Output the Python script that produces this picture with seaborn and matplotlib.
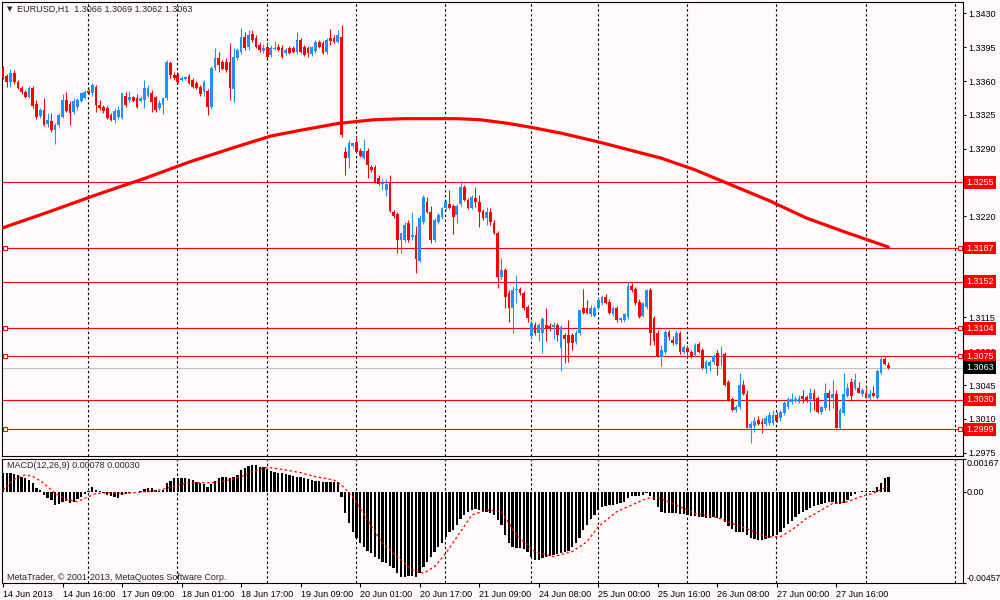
import numpy as np
import matplotlib
matplotlib.use('Agg')
import matplotlib.pyplot as plt
import seaborn as sns

# EURUSD H1 candles, 14 Jun 2013 .. 28 Jun 2013 (one entry per bar, left to right)
open_ = [1.3373, 1.3365, 1.3359, 1.3368, 1.3359, 1.3353, 1.3349, 1.3343, 1.3353, 1.3336,
         1.3324, 1.3330, 1.3315, 1.3319, 1.3309, 1.3314, 1.3323, 1.3340, 1.3336, 1.3328,
         1.3333, 1.3339, 1.3342, 1.3350, 1.3348, 1.3354, 1.3335, 1.3333, 1.3332, 1.3325,
         1.3320, 1.3323, 1.3322, 1.3345, 1.3340, 1.3343, 1.3342, 1.3339, 1.3340, 1.3345,
         1.3348, 1.3343, 1.3332, 1.3335, 1.3342, 1.3379, 1.3366, 1.3366, 1.3361, 1.3362,
         1.3365, 1.3361, 1.3358, 1.3354, 1.3349, 1.3350, 1.3333, 1.3373, 1.3384, 1.3380,
         1.3380, 1.3380, 1.3352, 1.3384, 1.3390, 1.3406, 1.3395, 1.3409, 1.3405, 1.3397,
         1.3391, 1.3395, 1.3387, 1.3393, 1.3395, 1.3394, 1.3389, 1.3394, 1.3394, 1.3390,
         1.3403, 1.3395, 1.3394, 1.3388, 1.3391, 1.3400, 1.3399, 1.3390, 1.3405, 1.3405,
         1.3400, 1.3406, 1.3286, 1.3280, 1.3293, 1.3297, 1.3288, 1.3280, 1.3288, 1.3271,
         1.3271, 1.3260, 1.3253, 1.3247, 1.3255, 1.3224, 1.3222, 1.3195, 1.3195, 1.3213,
         1.3198, 1.3200, 1.3174, 1.3214, 1.3235, 1.3224, 1.3195, 1.3214, 1.3219, 1.3228,
         1.3233, 1.3231, 1.3221, 1.3233, 1.3250, 1.3237, 1.3228, 1.3239, 1.3235, 1.3225,
         1.3218, 1.3224, 1.3213, 1.3203, 1.3157, 1.3164, 1.3140, 1.3125, 1.3143, 1.3145,
         1.3140, 1.3126, 1.3096, 1.3107, 1.3099, 1.3099, 1.3107, 1.3106, 1.3105, 1.3107,
         1.3083, 1.3097, 1.3097, 1.3097, 1.3090, 1.3099, 1.3125, 1.3125, 1.3119, 1.3117,
         1.3125, 1.3130, 1.3136, 1.3131, 1.3119, 1.3125, 1.3112, 1.3112, 1.3115, 1.3148,
         1.3145, 1.3131, 1.3117, 1.3126, 1.3143, 1.3114, 1.3099, 1.3074, 1.3079, 1.3100,
         1.3092, 1.3088, 1.3099, 1.3079, 1.3083, 1.3079, 1.3076, 1.3088, 1.3081, 1.3062,
         1.3065, 1.3069, 1.3078, 1.3074, 1.3077, 1.3048, 1.3031, 1.3019, 1.3022, 1.3045,
         1.3036, 1.3001, 1.3003, 1.3009, 1.3007, 1.3005, 1.3006, 1.3006, 1.3014, 1.3011,
         1.3016, 1.3022, 1.3027, 1.3029, 1.3027, 1.3034, 1.3033, 1.3031, 1.3037, 1.3032,
         1.3017, 1.3021, 1.3037, 1.3032, 1.3036, 1.3001, 1.3016, 1.3034, 1.3048, 1.3042,
         1.3042, 1.3036, 1.3037, 1.3032, 1.3037, 1.3032, 1.3058, 1.3072, 1.3066]
high = [1.3376, 1.3367, 1.3372, 1.3371, 1.3361, 1.3355, 1.3351, 1.3355, 1.3355, 1.3340,
        1.3332, 1.3342, 1.3327, 1.3327, 1.3316, 1.3327, 1.3347, 1.3349, 1.3339, 1.3342,
        1.3342, 1.3348, 1.3351, 1.3352, 1.3358, 1.3356, 1.3340, 1.3335, 1.3334, 1.3327,
        1.3332, 1.3334, 1.3348, 1.3349, 1.3350, 1.3345, 1.3347, 1.3344, 1.3361, 1.3356,
        1.3351, 1.3345, 1.3340, 1.3343, 1.3382, 1.3381, 1.3369, 1.3368, 1.3365, 1.3365,
        1.3367, 1.3363, 1.3360, 1.3356, 1.3361, 1.3352, 1.3376, 1.3394, 1.3390, 1.3382,
        1.3384, 1.3399, 1.3394, 1.3394, 1.3415, 1.3411, 1.3413, 1.3413, 1.3408, 1.3400,
        1.3398, 1.3400, 1.3397, 1.3401, 1.3398, 1.3397, 1.3394, 1.3396, 1.3396, 1.3411,
        1.3405, 1.3397, 1.3396, 1.3396, 1.3403, 1.3403, 1.3401, 1.3405, 1.3414, 1.3408,
        1.3413, 1.3418, 1.3292, 1.3299, 1.3296, 1.3302, 1.3291, 1.3300, 1.3291, 1.3273,
        1.3273, 1.3263, 1.3259, 1.3259, 1.3263, 1.3226, 1.3224, 1.3203, 1.3214, 1.3216,
        1.3224, 1.3210, 1.3221, 1.3242, 1.3240, 1.3231, 1.3218, 1.3223, 1.3230, 1.3237,
        1.3247, 1.3233, 1.3233, 1.3256, 1.3252, 1.3239, 1.3242, 1.3250, 1.3242, 1.3227,
        1.3229, 1.3228, 1.3216, 1.3205, 1.3177, 1.3166, 1.3143, 1.3148, 1.3159, 1.3147,
        1.3142, 1.3128, 1.3112, 1.3110, 1.3109, 1.3115, 1.3125, 1.3109, 1.3110, 1.3109,
        1.3107, 1.3099, 1.3112, 1.3099, 1.3102, 1.3123, 1.3145, 1.3133, 1.3128, 1.3127,
        1.3135, 1.3138, 1.3139, 1.3134, 1.3127, 1.3127, 1.3116, 1.3120, 1.3152, 1.3151,
        1.3147, 1.3134, 1.3131, 1.3145, 1.3146, 1.3117, 1.3102, 1.3086, 1.3102, 1.3102,
        1.3096, 1.3102, 1.3101, 1.3086, 1.3086, 1.3081, 1.3089, 1.3090, 1.3083, 1.3071,
        1.3071, 1.3077, 1.3081, 1.3085, 1.3079, 1.3050, 1.3033, 1.3024, 1.3057, 1.3050,
        1.3040, 1.3008, 1.3012, 1.3013, 1.3011, 1.3014, 1.3017, 1.3019, 1.3017, 1.3019,
        1.3028, 1.3033, 1.3037, 1.3034, 1.3035, 1.3040, 1.3035, 1.3042, 1.3041, 1.3034,
        1.3023, 1.3047, 1.3040, 1.3050, 1.3040, 1.3021, 1.3058, 1.3047, 1.3052, 1.3057,
        1.3048, 1.3042, 1.3042, 1.3040, 1.3044, 1.3062, 1.3074, 1.3074, 1.3069]
low = [1.3362, 1.3354, 1.3354, 1.3357, 1.3352, 1.3347, 1.3342, 1.3342, 1.3332, 1.3321,
       1.3322, 1.3313, 1.3312, 1.3307, 1.3295, 1.3312, 1.3322, 1.3328, 1.3314, 1.3326,
       1.3330, 1.3338, 1.3341, 1.3347, 1.3345, 1.3328, 1.3330, 1.3327, 1.3321, 1.3319,
       1.3316, 1.3321, 1.3321, 1.3333, 1.3338, 1.3338, 1.3332, 1.3338, 1.3332, 1.3343,
       1.3328, 1.3328, 1.3330, 1.3326, 1.3340, 1.3363, 1.3361, 1.3358, 1.3360, 1.3361,
       1.3357, 1.3353, 1.3352, 1.3345, 1.3345, 1.3325, 1.3331, 1.3371, 1.3369, 1.3371,
       1.3369, 1.3340, 1.3338, 1.3382, 1.3388, 1.3392, 1.3392, 1.3400, 1.3394, 1.3390,
       1.3389, 1.3384, 1.3385, 1.3392, 1.3391, 1.3384, 1.3387, 1.3388, 1.3389, 1.3388,
       1.3389, 1.3386, 1.3385, 1.3386, 1.3389, 1.3394, 1.3388, 1.3388, 1.3397, 1.3399,
       1.3399, 1.3302, 1.3263, 1.3270, 1.3291, 1.3285, 1.3281, 1.3279, 1.3260, 1.3266,
       1.3254, 1.3252, 1.3247, 1.3241, 1.3224, 1.3218, 1.3182, 1.3182, 1.3193, 1.3193,
       1.3195, 1.3161, 1.3172, 1.3212, 1.3223, 1.3192, 1.3193, 1.3212, 1.3217, 1.3226,
       1.3227, 1.3202, 1.3213, 1.3231, 1.3236, 1.3227, 1.3227, 1.3229, 1.3209, 1.3216,
       1.3211, 1.3211, 1.3202, 1.3146, 1.3155, 1.3125, 1.3110, 1.3099, 1.3130, 1.3138,
       1.3123, 1.3110, 1.3093, 1.3097, 1.3091, 1.3078, 1.3091, 1.3101, 1.3093, 1.3091,
       1.3060, 1.3068, 1.3069, 1.3081, 1.3088, 1.3097, 1.3119, 1.3119, 1.3117, 1.3116,
       1.3123, 1.3128, 1.3129, 1.3119, 1.3117, 1.3110, 1.3110, 1.3110, 1.3113, 1.3141,
       1.3128, 1.3114, 1.3115, 1.3124, 1.3086, 1.3086, 1.3074, 1.3065, 1.3077, 1.3092,
       1.3087, 1.3086, 1.3077, 1.3077, 1.3074, 1.3073, 1.3074, 1.3078, 1.3062, 1.3058,
       1.3060, 1.3067, 1.3055, 1.3065, 1.3044, 1.3028, 1.3018, 1.3017, 1.3020, 1.3035,
       1.3000, 1.2985, 1.2996, 1.3004, 1.2995, 1.3003, 1.3004, 1.3004, 1.3007, 1.3008,
       1.3014, 1.3020, 1.3025, 1.3027, 1.3026, 1.3026, 1.3027, 1.3017, 1.3019, 1.3016,
       1.3015, 1.3019, 1.3019, 1.3021, 1.3000, 1.2999, 1.3014, 1.3033, 1.3029, 1.3040,
       1.3037, 1.3034, 1.3032, 1.3030, 1.3033, 1.3031, 1.3056, 1.3066, 1.3062]
close = [1.3363, 1.3359, 1.3368, 1.3359, 1.3353, 1.3349, 1.3343, 1.3353, 1.3334, 1.3323,
         1.3330, 1.3314, 1.3320, 1.3309, 1.3314, 1.3325, 1.3340, 1.3329, 1.3327, 1.3339,
         1.3340, 1.3348, 1.3349, 1.3348, 1.3356, 1.3335, 1.3332, 1.3329, 1.3322, 1.3320,
         1.3329, 1.3330, 1.3348, 1.3335, 1.3343, 1.3339, 1.3333, 1.3342, 1.3353, 1.3353,
         1.3338, 1.3330, 1.3337, 1.3342, 1.3380, 1.3366, 1.3363, 1.3359, 1.3363, 1.3364,
         1.3358, 1.3354, 1.3353, 1.3347, 1.3359, 1.3333, 1.3373, 1.3384, 1.3377, 1.3372,
         1.3371, 1.3353, 1.3385, 1.3392, 1.3406, 1.3394, 1.3408, 1.3403, 1.3395, 1.3392,
         1.3394, 1.3385, 1.3394, 1.3394, 1.3392, 1.3385, 1.3392, 1.3389, 1.3390, 1.3403,
         1.3390, 1.3387, 1.3389, 1.3395, 1.3400, 1.3395, 1.3389, 1.3403, 1.3401, 1.3400,
         1.3408, 1.3304, 1.3280, 1.3296, 1.3296, 1.3286, 1.3282, 1.3287, 1.3273, 1.3268,
         1.3255, 1.3253, 1.3254, 1.3253, 1.3225, 1.3220, 1.3195, 1.3203, 1.3211, 1.3195,
         1.3200, 1.3176, 1.3218, 1.3240, 1.3224, 1.3195, 1.3216, 1.3221, 1.3228, 1.3235,
         1.3228, 1.3219, 1.3231, 1.3250, 1.3237, 1.3228, 1.3240, 1.3235, 1.3224, 1.3218,
         1.3224, 1.3214, 1.3203, 1.3157, 1.3164, 1.3136, 1.3125, 1.3143, 1.3145, 1.3140,
         1.3125, 1.3114, 1.3109, 1.3099, 1.3107, 1.3113, 1.3104, 1.3103, 1.3107, 1.3097,
         1.3105, 1.3093, 1.3089, 1.3089, 1.3099, 1.3123, 1.3120, 1.3120, 1.3125, 1.3125,
         1.3133, 1.3136, 1.3130, 1.3120, 1.3125, 1.3112, 1.3114, 1.3119, 1.3148, 1.3143,
         1.3130, 1.3115, 1.3130, 1.3143, 1.3099, 1.3091, 1.3074, 1.3081, 1.3100, 1.3095,
         1.3089, 1.3099, 1.3079, 1.3084, 1.3079, 1.3074, 1.3087, 1.3079, 1.3063, 1.3069,
         1.3069, 1.3075, 1.3065, 1.3075, 1.3045, 1.3029, 1.3019, 1.3022, 1.3045, 1.3036,
         1.3001, 1.3005, 1.3008, 1.3005, 1.3005, 1.3011, 1.3014, 1.3014, 1.3008, 1.3017,
         1.3026, 1.3031, 1.3031, 1.3031, 1.3032, 1.3031, 1.3029, 1.3037, 1.3029, 1.3017,
         1.3022, 1.3037, 1.3032, 1.3036, 1.3001, 1.3019, 1.3036, 1.3042, 1.3034, 1.3050,
         1.3037, 1.3040, 1.3032, 1.3036, 1.3034, 1.3060, 1.3072, 1.3067, 1.3063]

# MACD(12,26,9) main line (histogram), one per bar
macd_main = [0.00098, 0.00098, 0.00098, 0.00090, 0.00087, 0.00078, 0.00070, 0.00061, 0.00048, 0.00020,
             0.00011, -0.00014, -0.00031, -0.00039, -0.00064, -0.00059, -0.00048, -0.00043, -0.00053, -0.00048,
             -0.00036, -0.00023, -0.00009, 0.00005, 0.00025, 0.00013, 0.00005, -0.00004, -0.00012, -0.00017,
             -0.00024, -0.00029, -0.00012, -0.00007, -0.00003, 0.00001, 0.00003, 0.00006, 0.00015, 0.00020,
             0.00020, 0.00010, 0.00006, 0.00010, 0.00045, 0.00058, 0.00070, 0.00070, 0.00070, 0.00070,
             0.00065, 0.00061, 0.00053, 0.00045, 0.00041, 0.00025, 0.00041, 0.00058, 0.00070, 0.00078,
             0.00078, 0.00070, 0.00078, 0.00087, 0.00112, 0.00120, 0.00132, 0.00137, 0.00137, 0.00129,
             0.00125, 0.00115, 0.00108, 0.00103, 0.00098, 0.00095, 0.00092, 0.00087, 0.00082, 0.00075,
             0.00075, 0.00070, 0.00065, 0.00061, 0.00058, 0.00058, 0.00053, 0.00053, 0.00053, 0.00053,
             0.00053, -0.00024, -0.00105, -0.00155, -0.00199, -0.00232, -0.00257, -0.00277, -0.00294, -0.00308,
             -0.00324, -0.00338, -0.00350, -0.00358, -0.00371, -0.00383, -0.00405, -0.00425, -0.00425, -0.00421,
             -0.00421, -0.00425, -0.00405, -0.00375, -0.00350, -0.00328, -0.00299, -0.00277, -0.00254, -0.00227,
             -0.00199, -0.00190, -0.00165, -0.00137, -0.00115, -0.00098, -0.00090, -0.00087, -0.00090, -0.00098,
             -0.00098, -0.00103, -0.00115, -0.00140, -0.00165, -0.00215, -0.00257, -0.00277, -0.00282, -0.00282,
             -0.00287, -0.00299, -0.00324, -0.00341, -0.00341, -0.00333, -0.00324, -0.00321, -0.00316, -0.00311,
             -0.00304, -0.00299, -0.00294, -0.00277, -0.00257, -0.00232, -0.00190, -0.00165, -0.00137, -0.00115,
             -0.00090, -0.00073, -0.00070, -0.00065, -0.00065, -0.00060, -0.00053, -0.00048, -0.00031, -0.00020,
             -0.00020, -0.00020, -0.00015, -0.00003, -0.00020, -0.00040, -0.00073, -0.00098, -0.00103, -0.00103,
             -0.00107, -0.00107, -0.00110, -0.00110, -0.00115, -0.00120, -0.00120, -0.00124, -0.00127, -0.00132,
             -0.00132, -0.00127, -0.00132, -0.00132, -0.00149, -0.00171, -0.00187, -0.00199, -0.00199, -0.00199,
             -0.00215, -0.00232, -0.00237, -0.00240, -0.00240, -0.00237, -0.00232, -0.00220, -0.00215, -0.00199,
             -0.00182, -0.00161, -0.00144, -0.00127, -0.00110, -0.00098, -0.00090, -0.00082, -0.00070, -0.00065,
             -0.00060, -0.00053, -0.00048, -0.00048, -0.00057, -0.00057, -0.00053, -0.00040, -0.00020, -0.00010,
             0.00002, 0.00005, 0.00005, 0.00005, 0.00005, 0.00028, 0.00048, 0.00070, 0.00078]

# MACD signal line, read at selected bars
signal_bars = [0, 3, 6, 8, 11, 14, 17, 20, 22, 25, 29, 33, 38, 41, 46, 49, 53, 57, 60, 64,
               67, 71, 75, 80, 84, 89, 91, 94, 98, 102, 107, 110, 113, 116, 119, 123, 126, 130, 134, 138,
               143, 148, 153, 157, 160, 165, 169, 173, 176, 180, 186, 192, 196, 202, 205, 209, 212, 216, 220, 223,
               227, 230, 234, 238]
signal_vals = [0.00011, 0.00065, 0.00087, 0.00080, 0.00045, -0.00006, -0.00036, -0.00048, -0.00031, -0.00006,
               -0.00003, -0.00006, 0.00002, 0.00007, 0.00028, 0.00045, 0.00048, 0.00048, 0.00058, 0.00078,
               0.00103, 0.00125, 0.00115, 0.00098, 0.00078, 0.00061, 0.00036, -0.00022, -0.00140, -0.00257,
               -0.00341, -0.00391, -0.00408, -0.00375, -0.00308, -0.00199, -0.00115, -0.00090, -0.00098, -0.00215,
               -0.00299, -0.00324, -0.00299, -0.00249, -0.00174, -0.00098, -0.00065, -0.00031, -0.00026, -0.00057,
               -0.00107, -0.00127, -0.00157, -0.00199, -0.00224, -0.00224, -0.00190, -0.00132, -0.00090, -0.00057,
               -0.00048, -0.00026, -0.00005, 0.00030]

# moving average on the price panel, read at selected bars
ma_bars = [0, 12, 25, 38, 50, 62, 72, 80, 90, 100, 108, 115, 122, 128, 136, 142, 150, 160, 168, 177,
           186, 191, 196, 206, 216, 226, 238]
ma_vals = [1.3208, 1.3224, 1.3242, 1.3259, 1.3276, 1.3291, 1.3303, 1.3309, 1.3316, 1.3320, 1.3321, 1.3321,
           1.3321, 1.3320, 1.3316, 1.3312, 1.3306, 1.3297, 1.3289, 1.3280, 1.3268, 1.3260, 1.3252, 1.3236,
           1.3218, 1.3204, 1.3188]

levels = [1.3255, 1.3187, 1.3152, 1.3104, 1.3075, 1.3030, 1.2999]
level_marked = [False, True, False, True, True, False, True]
bid_price = 1.3063

price_ticks = [1.2975, 1.3010, 1.3045, 1.3080, 1.3115, 1.3150, 1.3185, 1.3220, 1.3255,
               1.3290, 1.3325, 1.3360, 1.3395, 1.3430]
# tick values whose labels sit under a level box on the right scale
hidden_ticks = [1.3150, 1.3185, 1.3255]
macd_ticks = [0.00167, 0.0, -0.00457]
macd_tick_labels = ['0.00167', '0.00', '-0.00457']

time_ticks = [0, 16, 32, 48, 64, 80, 96, 112, 128, 144, 160, 176, 192, 208, 224]
time_labels = ['14 Jun 2013', '14 Jun 16:00', '17 Jun 09:00', '18 Jun 01:00', '18 Jun 17:00',
               '19 Jun 09:00', '20 Jun 01:00', '20 Jun 17:00', '21 Jun 09:00', '24 Jun 08:00',
               '25 Jun 00:00', '25 Jun 16:00', '26 Jun 08:00', '27 Jun 00:00', '27 Jun 16:00']
day_starts = [23, 47, 71, 95, 119, 142, 160, 184, 208, 232, 256]

BG = '#FFFAFA'
BULL = '#1E90FF'
BEAR = '#FF0000'
FS = 6.5

sns.set_theme(style='white')
plt.rcParams['font.family'] = ['Liberation Sans', 'DejaVu Sans']
plt.rcParams['axes.linewidth'] = 0.8

o = np.array(open_)
h = np.array(high)
l = np.array(low)
c = np.array(close)
idx = np.arange(len(c))
up = c >= o
colors = np.where(up, BULL, BEAR)

fig = plt.figure(figsize=(10, 6), dpi=100, facecolor=BG)
ax = fig.add_axes([0.002, 0.24, 0.961, 0.7567], facecolor=BG)
axm = fig.add_axes([0.002, 0.02833, 0.961, 0.20667], facecolor=BG)

# candles
ax.vlines(idx, l, h, colors=colors, lw=0.75, zorder=3)
body = np.maximum(np.abs(c - o), 0.00008)
ax.bar(idx, body, bottom=np.minimum(o, c), width=0.74, color=colors, linewidth=0, zorder=3)

# moving average
sns.lineplot(x=ma_bars, y=ma_vals, ax=ax, color='red', lw=2.3, zorder=4)

# horizontal levels
for lv, mk in zip(levels, level_marked):
    ax.axhline(lv, color='red', lw=0.8, zorder=2)
    if mk:
        ax.plot([0.55, 257.3], [lv, lv], 's', ms=3.3, mfc=BG, mec='red', mew=0.8,
                clip_on=False, zorder=5)
ax.axhline(bid_price, color='#C0C0C0', lw=0.8, zorder=2)

# day separators
for a in (ax, axm):
    for d in day_starts:
        a.axvline(d - 0.1, color='black', lw=0.8, ls=(0, (2.2, 2.2)), zorder=1)

ax.set_xlim(-0.27, 258.06)
ax.set_ylim(1.29715, 1.34419)
ax.set_xticks([])
ax.yaxis.tick_right()
ax.set_yticks(price_ticks)
ax.set_yticklabels(['' if t in hidden_ticks else f'{t:.4f}' for t in price_ticks])
ax.tick_params(axis='y', direction='out', length=2.5, width=0.8, pad=1.5,
               labelsize=FS, colors='black', right=True, left=False)

ytrans = ax.get_yaxis_transform()
for lv in levels:
    ax.text(1.0032, lv, f'{lv:.4f}', transform=ytrans, ha='left', va='center',
            fontsize=FS, color='white', clip_on=False, zorder=6,
            bbox=dict(boxstyle='square,pad=0.22', fc='red', ec='red', lw=0))
ax.text(1.0032, bid_price, f'{bid_price:.4f}', transform=ytrans, ha='left', va='center',
        fontsize=FS, color='white', clip_on=False, zorder=6,
        bbox=dict(boxstyle='square,pad=0.22', fc='black', ec='black', lw=0))

# MACD panel
axm.bar(idx, macd_main, width=0.62, color='black', linewidth=0, zorder=3)
sns.lineplot(x=signal_bars, y=signal_vals, ax=axm, color='red', lw=0.9,
             linestyle=(0, (2, 2)), zorder=4)
axm.set_xlim(-0.27, 258.06)
axm.set_ylim(-0.00457, 0.00167)
axm.yaxis.tick_right()
axm.set_yticks(macd_ticks)
axm.set_yticklabels([])
axm.tick_params(axis='y', direction='out', length=2.5, width=0.8,
                colors='black', right=True, left=False)
mtrans = axm.get_yaxis_transform()
for val, txt, va in zip(macd_ticks, macd_tick_labels, ['top', 'center', 'bottom']):
    axm.text(1.0035, val, txt, transform=mtrans, ha='left', va=va,
             fontsize=6.2 if txt.startswith('-') else FS, color='black', clip_on=False)
axm.set_xticks(time_ticks)
axm.set_xticklabels(time_labels, ha='left')
axm.tick_params(axis='x', direction='out', length=3, width=0.8, pad=2,
                labelsize=FS, colors='black', bottom=True)

for a in (ax, axm):
    a.grid(False)
    for s in a.spines.values():
        s.set_color('black')
        s.set_linewidth(0.8)
    a.set_xlabel('')
    a.set_ylabel('')

# captions
fig.text(0.0065, 1 - 9.5 / 600, '\u25bc', fontsize=5, family='DejaVu Sans', va='center')
fig.text(0.017, 1 - 9.5 / 600, 'EURUSD,H1  1.3066 1.3069 1.3062 1.3063', fontsize=FS, va='center')
fig.text(0.007, 1 - 466 / 600, 'MACD(12,26,9) 0.00078 0.00030', fontsize=FS, va='center')
fig.text(0.007, 1 - 577 / 600, 'MetaTrader, \u00a9 2001-2013, MetaQuotes Software Corp.',
         fontsize=FS, va='center')

fig.savefig('out.png', dpi=100, facecolor=BG)
